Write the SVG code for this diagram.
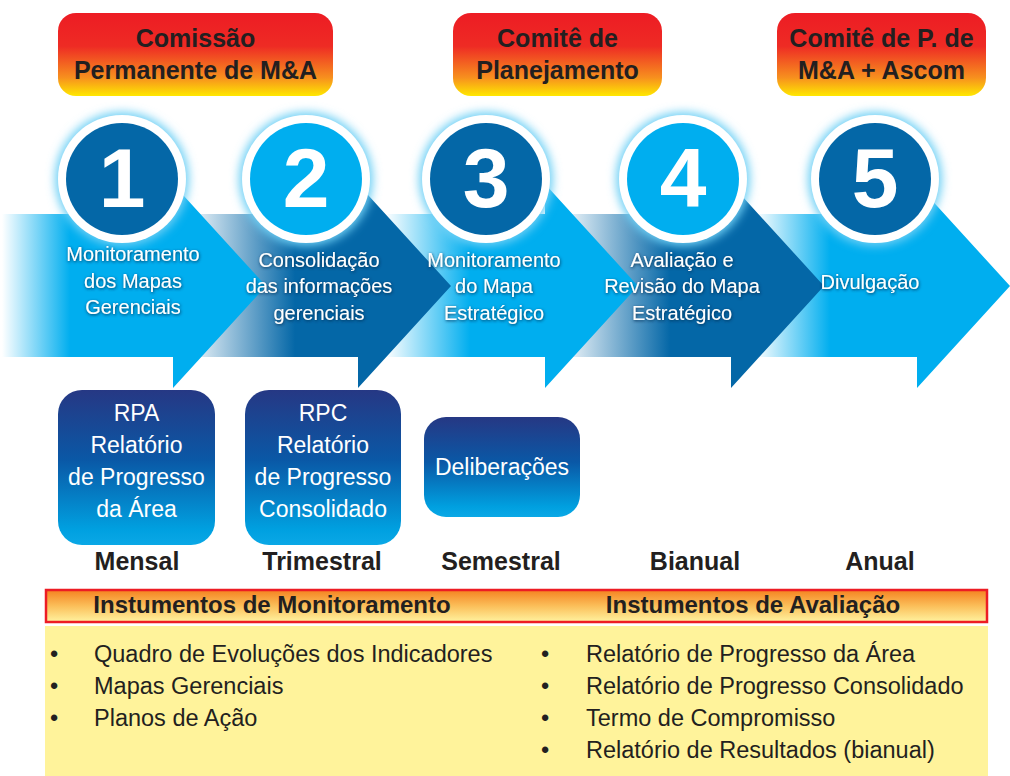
<svg xmlns="http://www.w3.org/2000/svg" width="1010" height="776" viewBox="0 0 1010 776">
<defs>
<style>
.hdr{font-family:"Liberation Sans",Arial,sans-serif;font-weight:bold;font-size:25px;fill:#231F20;text-anchor:middle}
.num{font-family:"Liberation Sans",Arial,sans-serif;font-weight:bold;font-size:84px;fill:#fff;text-anchor:middle}
.lbl{font-family:"Liberation Sans",Arial,sans-serif;font-size:20px;fill:#fff;text-anchor:middle}
.box{font-family:"Liberation Sans",Arial,sans-serif;font-size:23px;fill:#fff;text-anchor:middle}
.per{font-family:"Liberation Sans",Arial,sans-serif;font-weight:bold;font-size:25px;fill:#231F20;text-anchor:middle}
.bar{font-family:"Liberation Sans",Arial,sans-serif;font-weight:bold;font-size:24px;fill:#231F20;text-anchor:middle}
.li{font-family:"Liberation Sans",Arial,sans-serif;font-size:23.5px;fill:#231F20}
.ring{fill:#fff}
.dark{fill:#0467A7}
.light{fill:#00AEEF}
</style>
<linearGradient id="gTop" x1="0" y1="0" x2="0" y2="1">
<stop offset="0" stop-color="#ED1C24"/><stop offset="0.4" stop-color="#EE2B24"/><stop offset="0.78" stop-color="#F7901E"/><stop offset="1" stop-color="#FFE800"/>
</linearGradient>
<linearGradient id="gBox" x1="0" y1="0" x2="0" y2="1">
<stop offset="0" stop-color="#263884"/><stop offset="0.45" stop-color="#0A58A6"/><stop offset="0.9" stop-color="#00A0E0"/><stop offset="1" stop-color="#0AA8E6"/>
</linearGradient>
<linearGradient id="gBar" x1="0" y1="0" x2="0" y2="1">
<stop offset="0" stop-color="#F58220"/><stop offset="0.5" stop-color="#FBBF5A"/><stop offset="1" stop-color="#FFF3A0"/>
</linearGradient>
<linearGradient id="a1" gradientUnits="userSpaceOnUse" x1="2" y1="0" x2="70" y2="0">
<stop offset="0" stop-color="#00AEEF" stop-opacity="0"/><stop offset="1" stop-color="#00AEEF"/>
</linearGradient>
<linearGradient id="a2" gradientUnits="userSpaceOnUse" x1="195" y1="0" x2="295" y2="0">
<stop offset="0" stop-color="#0467A7" stop-opacity="0.1"/><stop offset="1" stop-color="#0467A7"/>
</linearGradient>
<linearGradient id="a3" gradientUnits="userSpaceOnUse" x1="385" y1="0" x2="470" y2="0">
<stop offset="0" stop-color="#00AEEF" stop-opacity="0"/><stop offset="1" stop-color="#00AEEF"/>
</linearGradient>
<linearGradient id="a4" gradientUnits="userSpaceOnUse" x1="570" y1="0" x2="670" y2="0">
<stop offset="0" stop-color="#0467A7" stop-opacity="0.1"/><stop offset="1" stop-color="#0467A7"/>
</linearGradient>
<linearGradient id="a5" gradientUnits="userSpaceOnUse" x1="755" y1="0" x2="830" y2="0">
<stop offset="0" stop-color="#00AEEF" stop-opacity="0"/><stop offset="1" stop-color="#00AEEF"/>
</linearGradient>
<filter id="halo" x="-30%" y="-30%" width="160%" height="160%"><feGaussianBlur stdDeviation="5"/></filter>
<filter id="shd" x="-10%" y="-30%" width="120%" height="160%"><feDropShadow dx="0.5" dy="1" stdDeviation="1.5" flood-color="#00284d" flood-opacity="0.9"/></filter>
</defs>
<rect width="1010" height="776" fill="#fff"/>

<g id="connectors">
<path id="arrow5" d="M731,214 L917,214 L917,184 L1010,286 L917,388 L917,357 L731,357 Z" fill="url(#a5)"/>
<path id="arrow4" d="M545,214 L731,214 L731,184 L824,286 L731,388 L731,357 L545,357 Z" fill="url(#a4)"/>
<path id="arrow3" d="M358,214 L545,214 L545,184 L638,286 L545,388 L545,357 L358,357 Z" fill="url(#a3)"/>
<path id="arrow2" d="M173,214 L358,214 L358,184 L451,286 L358,388 L358,357 L173,357 Z" fill="url(#a2)"/>
<path id="arrow1" d="M0,214 L173,214 L173,184 L266,286 L173,388 L173,357 L0,357 Z" fill="url(#a1)"/>
</g>

<g id="top1"><rect x="58" y="13" width="275" height="83" rx="18" fill="url(#gTop)"/><text class="hdr" x="195.5" y="47">Comissão</text><text class="hdr" x="195.5" y="79">Permanente de M&amp;A</text></g>
<g id="top2"><rect x="453" y="13" width="209" height="83" rx="18" fill="url(#gTop)"/><text class="hdr" x="557.5" y="47">Comitê de</text><text class="hdr" x="557.5" y="79">Planejamento</text></g>
<g id="top3"><rect x="777" y="13" width="209" height="83" rx="18" fill="url(#gTop)"/><text class="hdr" x="881.5" y="47">Comitê de P. de</text><text class="hdr" x="881.5" y="79">M&amp;A + Ascom</text></g>

<g id="step1"><circle cx="122" cy="179" r="67" fill="#6fd0f5" filter="url(#halo)"/><circle class="ring" cx="122" cy="179" r="64"/><circle class="dark" cx="122" cy="179" r="56"/><text class="num" x="122" y="207">1</text>
<g filter="url(#shd)"><text class="lbl" x="133" y="261">Monitoramento</text><text class="lbl" x="133" y="288">dos Mapas</text><text class="lbl" x="133" y="314">Gerenciais</text></g></g>
<g id="step2"><circle cx="306" cy="179" r="67" fill="#6fd0f5" filter="url(#halo)"/><circle class="ring" cx="306" cy="179" r="64"/><circle class="light" cx="306" cy="179" r="56"/><text class="num" x="306" y="207">2</text>
<g filter="url(#shd)"><text class="lbl" x="319" y="267">Consolidação</text><text class="lbl" x="319" y="293">das informações</text><text class="lbl" x="319" y="320">gerenciais</text></g></g>
<g id="step3"><circle cx="486" cy="179" r="67" fill="#6fd0f5" filter="url(#halo)"/><circle class="ring" cx="486" cy="179" r="64"/><circle class="dark" cx="486" cy="179" r="56"/><text class="num" x="486" y="207">3</text>
<g filter="url(#shd)"><text class="lbl" x="494" y="267">Monitoramento</text><text class="lbl" x="494" y="293">do Mapa</text><text class="lbl" x="494" y="320">Estratégico</text></g></g>
<g id="step4"><circle cx="683" cy="179" r="67" fill="#6fd0f5" filter="url(#halo)"/><circle class="ring" cx="683" cy="179" r="64"/><circle class="light" cx="683" cy="179" r="56"/><text class="num" x="683" y="207">4</text>
<g filter="url(#shd)"><text class="lbl" x="682" y="267">Avaliação e</text><text class="lbl" x="682" y="293">Revisão do Mapa</text><text class="lbl" x="682" y="320">Estratégico</text></g></g>
<g id="step5"><circle cx="875" cy="179" r="67" fill="#6fd0f5" filter="url(#halo)"/><circle class="ring" cx="875" cy="179" r="64"/><circle class="dark" cx="875" cy="179" r="56"/><text class="num" x="875" y="207">5</text>
<g filter="url(#shd)"><text class="lbl" x="870" y="289">Divulgação</text></g></g>

<g id="rpa"><rect x="58" y="390" width="157" height="155" rx="24" fill="url(#gBox)"/><text class="box" x="136.5" y="421">RPA</text><text class="box" x="136.5" y="453">Relatório</text><text class="box" x="136.5" y="485">de Progresso</text><text class="box" x="136.5" y="517">da Área</text></g>
<g id="rpc"><rect x="245" y="390" width="156" height="155" rx="24" fill="url(#gBox)"/><text class="box" x="323" y="421">RPC</text><text class="box" x="323" y="453">Relatório</text><text class="box" x="323" y="485">de Progresso</text><text class="box" x="323" y="517">Consolidado</text></g>
<g id="delib"><rect x="424" y="417" width="156" height="100" rx="22" fill="url(#gBox)"/><text class="box" x="502" y="475">Deliberações</text></g>

<g id="periods">
<text class="per" x="137" y="570">Mensal</text>
<text class="per" x="322" y="570">Trimestral</text>
<text class="per" x="501" y="570">Semestral</text>
<text class="per" x="695" y="570">Bianual</text>
<text class="per" x="880" y="570">Anual</text>
</g>

<g id="legend">
<rect x="46" y="590" width="941" height="32" fill="url(#gBar)" stroke="#ED1C24" stroke-width="2.5"/>
<text class="bar" x="272" y="613">Instumentos de Monitoramento</text>
<text class="bar" x="753" y="613">Instumentos de Avaliação</text>
<rect x="45" y="626" width="943" height="150" fill="#FFF39B"/>
<text class="li" x="50" y="662">•</text><text class="li" x="94" y="662">Quadro de Evoluções dos Indicadores</text>
<text class="li" x="50" y="694">•</text><text class="li" x="94" y="694">Mapas Gerenciais</text>
<text class="li" x="50" y="726">•</text><text class="li" x="94" y="726">Planos de Ação</text>
<text class="li" x="541" y="662">•</text><text class="li" x="586" y="662">Relatório de Progresso da Área</text>
<text class="li" x="541" y="694">•</text><text class="li" x="586" y="694">Relatório de Progresso Consolidado</text>
<text class="li" x="541" y="726">•</text><text class="li" x="586" y="726">Termo de Compromisso</text>
<text class="li" x="541" y="758">•</text><text class="li" x="586" y="758">Relatório de Resultados (bianual)</text>
</g>
</svg>
